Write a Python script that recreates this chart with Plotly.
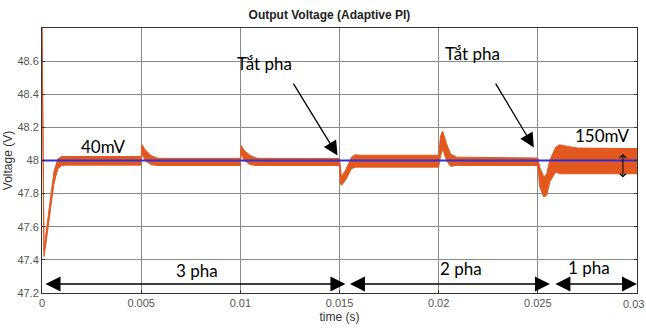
import plotly.graph_objects as go

# ---- data ----
time_s = [0, 0.0001, 0.0002, 0.0004, 0.0006, 0.0008, 0.001, 0.0012,
          0.005, 0.00502, 0.00505, 0.0052, 0.0055, 0.0058, 0.006,
          0.01, 0.01002, 0.01005, 0.0102, 0.0105, 0.0108, 0.011,
          0.015, 0.01505, 0.0151, 0.0153, 0.0156, 0.0158, 0.016,
          0.02, 0.0201, 0.0202, 0.0204, 0.0206, 0.0209, 0.021,
          0.025, 0.0251, 0.0253, 0.02545, 0.0256, 0.0259, 0.0261, 0.0265, 0.027, 0.03]
v_upper = [48.85, 47.46, 47.56, 47.76, 47.93, 48.01, 48.025, 48.024,
           48.024, 48.075, 48.095, 48.065, 48.03, 48.015, 48.013,
           48.013, 48.07, 48.09, 48.06, 48.03, 48.015, 48.013,
           48.012, 47.96, 47.9, 47.94, 48.02, 48.035, 48.032,
           48.032, 48.15, 48.178, 48.1, 48.04, 48.02, 48.02,
           48.015, 47.96, 47.9, 47.92, 48.0, 48.08, 48.095, 48.085, 48.075, 48.072]
v_lower = [48.85, 47.42, 47.5, 47.69, 47.86, 47.95, 47.97, 47.972,
           47.972, 48.02, 48.04, 48.0, 47.975, 47.97, 47.97,
           47.97, 48.02, 48.04, 48.0, 47.975, 47.97, 47.97,
           47.97, 47.86, 47.85, 47.88, 47.95, 47.96, 47.96,
           47.96, 48.03, 48.07, 48.0, 47.965, 47.97, 47.97,
           47.97, 47.84, 47.78, 47.79, 47.87, 47.93, 47.92, 47.92, 47.92, 47.92]
ref_time = [0, 0.03]
ref_voltage = [48.0, 48.0]

y_ticks = [47.2, 47.4, 47.6, 47.8, 48.0, 48.2, 48.4, 48.6]
y_tick_labels = ["47.2", "47.4", "47.6", "47.8", "48", "48.2", "48.4", "48.6"]
x_ticks = [0, 0.005, 0.01, 0.015, 0.02, 0.025, 0.03]
x_tick_labels = ["0", "0.005", "0.01", "0.015", "0.02", "0.025", "0.03"]

phase_labels = ["3 pha", "2 pha", "1 pha"]
phase_start = [0.0001, 0.01545, 0.02581]
phase_end = [0.0153, 0.02561, 0.0300]

ORANGE = "#E2581F"
fig = go.Figure()
fig.add_trace(go.Scatter(x=time_s, y=v_lower, mode="lines",
                         line=dict(color=ORANGE, width=1), showlegend=False))
fig.add_trace(go.Scatter(x=time_s, y=v_upper, mode="lines", fill="tonexty",
                         fillcolor=ORANGE, line=dict(color=ORANGE, width=1), showlegend=False))
fig.add_trace(go.Scatter(x=ref_time, y=ref_voltage, mode="lines",
                         line=dict(color="#3030D8", width=2), showlegend=False))

NARROW = "Liberation Sans Narrow, Arial Narrow, sans-serif"
AX_FONT = dict(family=NARROW, size=11, color="#555")
TXT = dict(family="Lato, Carlito, sans-serif", size=17, color="black")
ann = []
def label(x, y, text):
    ann.append(dict(x=x, y=y, xref="x", yref="y", text=text, showarrow=False, font=TXT))

label(0.01121, 48.588, "Tắt pha")
label(0.02172, 48.648, "Tắt pha")
label(0.00308, 48.085, "40mV")
label(0.02823, 48.152, "150mV")
for lab, s, e, lx, ly in zip(phase_labels, phase_start, phase_end,
                             [0.00783, 0.02111, 0.02758], [47.333, 47.345, 47.352]):
    label(lx, ly, lab)
    ann.append(dict(x=e, y=47.255, ax=s, ay=47.255, xref="x", yref="y", axref="x", ayref="y",
                    text="", showarrow=True, arrowhead=2, startarrowhead=2, arrowside="end+start",
                    arrowwidth=1.5, arrowsize=2, startarrowsize=2, arrowcolor="black"))

# "Tắt pha" pointers
for (x0, y0, x1, y1) in [(0.01263, 48.473, 0.0149, 48.03), (0.02283, 48.473, 0.0248, 48.079)]:
    ann.append(dict(x=x1, y=y1, ax=x0, ay=y0, xref="x", yref="y", axref="x", ayref="y",
                    text="", showarrow=True, arrowhead=2, arrowwidth=1.3, arrowsize=2.2,
                    arrowcolor="black"))
# 150mV double arrow
ann.append(dict(x=0.02929, y=47.897, ax=0.02929, ay=48.049, xref="x", yref="y", axref="x", ayref="y",
                text="", showarrow=True, arrowhead=4, startarrowhead=4, arrowside="end+start",
                arrowwidth=1, arrowsize=1.2, startarrowsize=1.2, arrowcolor="black"))

# last x tick label placed as text so it stays inside the page
ann.append(dict(x=x_ticks[-1], y=0, xref="x", yref="paper", text=x_tick_labels[-1],
                showarrow=False, xanchor="right", xshift=9, yanchor="top", yshift=-3, font=AX_FONT))
shown_x_labels = x_tick_labels[:-1] + [""]

fig.update_layout(
    width=646, height=333,
    margin=dict(l=42, r=9, t=28, b=40, autoexpand=False),
    paper_bgcolor="white", plot_bgcolor="white",
    title=dict(text="<b>Output Voltage (Adaptive PI)</b>", x=0.51, xanchor="center",
               y=1 - 15 / 333, yanchor="middle",
               font=dict(family=NARROW, size=12, color="#222")),
    annotations=ann,
    xaxis=dict(range=[0, 0.030001], tickvals=x_ticks, ticktext=shown_x_labels, tickfont=AX_FONT,
               automargin=False,
               showgrid=True, gridcolor="#8a8a8a", gridwidth=1, zeroline=False,
               showline=True, linecolor="#333", linewidth=1, mirror=True,
               ticks="inside", ticklen=3, tickcolor="#333",
               title=dict(text="time (s)", font=dict(family=NARROW, size=12, color="#333"), standoff=4)),
    yaxis=dict(range=[47.2, 48.8], tickvals=y_ticks, ticktext=y_tick_labels, tickfont=AX_FONT,
               automargin=False,
               showgrid=True, gridcolor="#8a8a8a", gridwidth=1, zeroline=False,
               showline=True, linecolor="#333", linewidth=1, mirror="ticks",
               ticks="inside", ticklen=3, tickcolor="#333",
               title=dict(text="Voltage (V)", font=dict(family=NARROW, size=12, color="#333"), standoff=2)),
)
fig.write_html("out.html", config={"displayModeBar": False},
               post_script="document.body.style.margin='0px';document.body.style.overflow='hidden';")
